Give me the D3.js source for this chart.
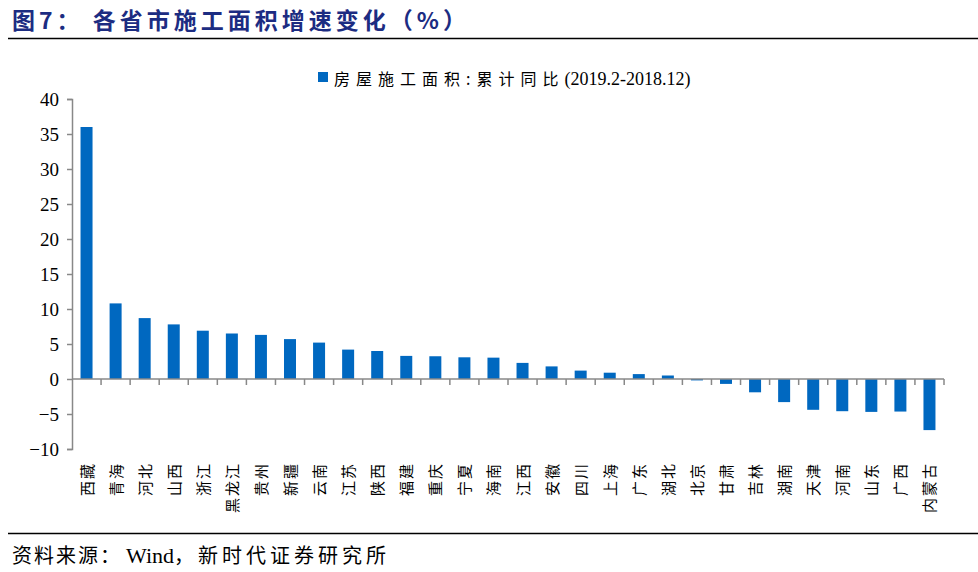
<!DOCTYPE html>
<html><head><meta charset="utf-8">
<script src="https://cdn.jsdelivr.net/npm/d3@7"></script>
<style>
body{margin:0;background:#fff;}
svg{display:block;}
</style></head>
<body>
<svg id="c" width="978" height="572"></svg>
<script>
const categories = ["西藏","青海","河北","山西","浙江","黑龙江","贵州","新疆","云南","江苏","陕西","福建","重庆","宁夏","海南","江西","安徽","四川","上海","广东","湖北","北京","甘肃","吉林","湖南","天津","河南","山东","广西","内蒙古"];
const values = [36.0,10.8,8.7,7.8,6.9,6.5,6.3,5.7,5.2,4.2,4.0,3.3,3.25,3.1,3.05,2.3,1.8,1.2,0.9,0.7,0.5,-0.2,-0.7,-1.9,-3.3,-4.4,-4.6,-4.7,-4.65,-7.3];
const yTicks = [-10,-5,0,5,10,15,20,25,30,35,40];
const seriesName = "房屋施工面积:累计同比";
const seriesPeriod = "(2019.2-2018.12)";
const titleText = "图7：  各省市施工面积增速变化（%）";
const sourceParts = ["资料来源：", "Wind", "，新时代证券研究所"];

const svg = d3.select("#c");
const serif = "'Liberation Serif','Times New Roman','Noto Sans CJK SC',serif";
const cjk = "'Noto Sans CJK SC','Liberation Serif',serif";
const barColor = "#0068C0";
const axisColor = "#888888";

// title
svg.append("text").attr("x", 12).attr("y", 29)
  .attr("font-family", cjk).attr("font-weight", "bold").attr("font-size", 23)
  .attr("letter-spacing", 4).attr("fill", "#1c2c82").text(titleText);
svg.append("line").attr("x1", 8).attr("x2", 978).attr("y1", 38.5).attr("y2", 38.5)
  .attr("stroke", "#000").attr("stroke-width", 1.5);
svg.append("line").attr("x1", 8).attr("x2", 978).attr("y1", 533.5).attr("y2", 533.5)
  .attr("stroke", "#000").attr("stroke-width", 1.5);
const st = svg.append("text").attr("x", 12).attr("y", 563).attr("font-size", 20).attr("fill", "#000");
st.append("tspan").attr("font-family", cjk).attr("letter-spacing", 2).text(sourceParts[0]);
st.append("tspan").attr("font-family", serif).attr("font-size", 22).attr("dx", 4).text(sourceParts[1]);
st.append("tspan").attr("font-family", cjk).attr("letter-spacing", 4).text(sourceParts[2]);

// scales
const xb = d3.scaleBand().domain(categories).range([72, 944]);
const y = d3.scaleLinear().domain([-10, 40]).range([449, 99]);

// legend
const lg = svg.append("g");
lg.append("rect").attr("x", 318).attr("y", 72).attr("width", 10).attr("height", 10).attr("fill", barColor);
const lt = lg.append("text").attr("x", 334).attr("y", 85).attr("font-size", 16).attr("fill", "#000");
lt.append("tspan").attr("font-family", cjk).attr("letter-spacing", 6).text(seriesName);
lt.append("tspan").attr("font-family", serif).attr("font-size", 18).text(seriesPeriod);

// bars
svg.append("g").selectAll("rect").data(values).join("rect")
  .attr("x", (d, i) => xb(categories[i]) + xb.bandwidth() / 2 - 6)
  .attr("width", 12)
  .attr("y", d => y(Math.max(0, d)))
  .attr("height", d => Math.abs(y(d) - y(0)))
  .attr("fill", barColor);

// y axis
const ya = svg.append("g").attr("transform", "translate(72,0)")
  .call(d3.axisLeft(y).tickValues(yTicks).tickSize(5).tickPadding(8).tickFormat(d3.format("d")));
ya.attr("font-family", serif);
ya.select(".domain").attr("stroke", axisColor).attr("stroke-width", 1.5);
ya.selectAll(".tick line").attr("stroke", axisColor).attr("stroke-width", 1.5);
ya.selectAll(".tick text").attr("font-family", serif).attr("font-size", 19).attr("fill", "#000");

// x axis at zero
const xa = svg.append("g").attr("transform", `translate(0,${y(0)})`);
xa.append("line").attr("x1", 72).attr("x2", 944).attr("stroke", axisColor).attr("stroke-width", 1.5);
const bounds = categories.map(c => xb(c) + xb.bandwidth());
xa.selectAll("line.tk").data(bounds).join("line").attr("class", "tk")
  .attr("x1", d => d).attr("x2", d => d).attr("y1", 0).attr("y2", 6)
  .attr("stroke", axisColor).attr("stroke-width", 1.5);

// x labels
svg.append("g").selectAll("text").data(categories).join("text")
  .attr("transform", c => `translate(${xb(c) + xb.bandwidth() / 2 + 6},462) rotate(-90)`)
  .attr("text-anchor", "end")
  .attr("font-family", cjk).attr("font-size", 15).attr("letter-spacing", 2)
  .attr("fill", "#000").text(c => c);
</script>
</body></html>
